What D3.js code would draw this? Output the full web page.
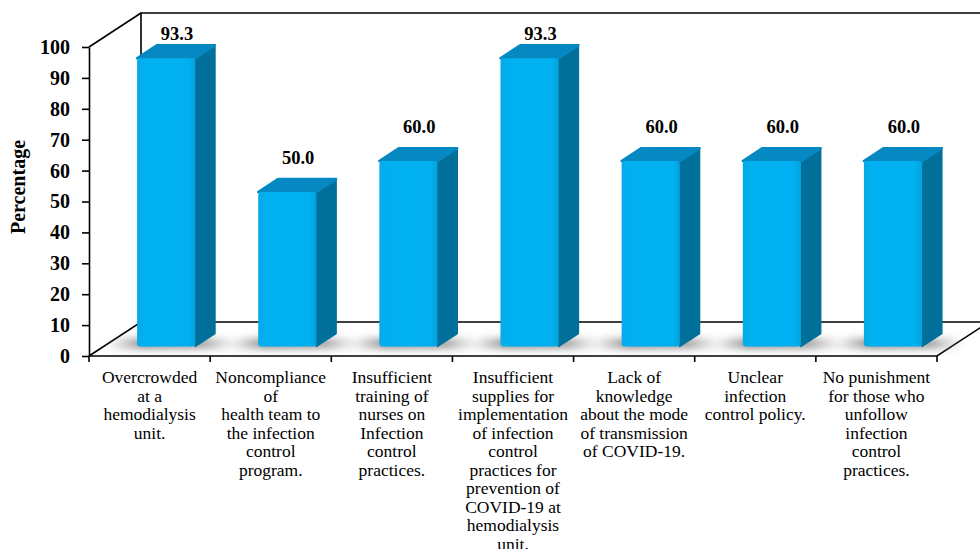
<!DOCTYPE html>
<html>
<head>
<meta charset="utf-8">
<script src="https://cdn.jsdelivr.net/npm/d3@7"></script>
<style>
  html, body { margin: 0; padding: 0; background: #fff; }
  svg { display: block; }
</style>
</head>
<body>
<div id="chart"></div>
<script>
(function () {
  'use strict';

  // ── Data ──────────────────────────────────────────────────────
  const categories = [
    ['Overcrowded', 'at a', 'hemodialysis', 'unit.'],
    ['Noncompliance', 'of', 'health team to', 'the infection', 'control', 'program.'],
    ['Insufficient', 'training of', 'nurses on', 'Infection', 'control', 'practices.'],
    ['Insufficient', 'supplies for', 'implementation', 'of infection', 'control',
     'practices for', 'prevention of', 'COVID-19 at', 'hemodialysis', 'unit.'],
    ['Lack of', 'knowledge', 'about the mode', 'of transmission', 'of COVID-19.'],
    ['Unclear', 'infection', 'control policy.'],
    ['No punishment', 'for those who', 'unfollow', 'infection', 'control', 'practices.'],
  ];
  const values = [93.3, 50.0, 60.0, 93.3, 60.0, 60.0, 60.0];
  const yTicks = [0, 10, 20, 30, 40, 50, 60, 70, 80, 90, 100];
  const yTitle = 'Percentage';

  // ── Layout ────────────────────────────────────────────────────
  const W = 980, H = 549;
  const X0 = 89, X1 = 937;        // front floor edge
  const Y0 = 356, Y100 = 47;      // front axis
  const DX = 52, DY = -34;        // full depth offset
  const F_FRONT = 0.28, F_BACK = 0.66;
  const SERIF = "'Liberation Serif'";

  const FRONT = '#00B0F0', TOP = '#0689C2', SIDE = '#00709B';

  const ids = categories.map((_, i) => 'c' + i);
  const x = d3.scaleBand().domain(ids).range([X0, X1]).padding(0);
  const y = d3.scaleLinear().domain([0, 100]).range([Y0, Y100]);

  const svg = d3.select('#chart').append('svg')
    .attr('width', W).attr('height', H)
    .attr('viewBox', `0 0 ${W} ${H}`);

  const defs = svg.append('defs');
  const blur = defs.append('filter').attr('id', 'shadow-blur')
    .attr('filterUnits', 'userSpaceOnUse')
    .attr('x', 0).attr('y', 250).attr('width', W).attr('height', 150);
  blur.append('feGaussianBlur').attr('stdDeviation', 4);

  const sg = defs.append('linearGradient').attr('id', 'shadow-grad')
    .attr('x1', 0).attr('x2', 1).attr('y1', 0).attr('y2', 0);
  sg.append('stop').attr('offset', '0%').attr('stop-color', '#bbb').attr('stop-opacity', 0.1);
  sg.append('stop').attr('offset', '30%').attr('stop-color', '#555').attr('stop-opacity', 0.9);
  sg.append('stop').attr('offset', '75%').attr('stop-color', '#666').attr('stop-opacity', 0.8);
  sg.append('stop').attr('offset', '100%').attr('stop-color', '#bbb').attr('stop-opacity', 0.1);

  const fg = defs.append('linearGradient').attr('id', 'front-grad')
    .attr('x1', 0).attr('x2', 1).attr('y1', 0).attr('y2', 0);
  fg.append('stop').attr('offset', '0%').attr('stop-color', '#0AA9E6');
  fg.append('stop').attr('offset', '12%').attr('stop-color', FRONT);
  fg.append('stop').attr('offset', '88%').attr('stop-color', FRONT);
  fg.append('stop').attr('offset', '100%').attr('stop-color', '#03A2DD');

  // ── Walls & floor ─────────────────────────────────────────────
  const frame = svg.append('g')
    .attr('fill', 'none').attr('stroke', '#000').attr('stroke-width', 1.6);

  // back wall top + left back edge
  frame.append('path').attr('d',
    `M${X0 + DX},${Y0 + DY} L${X0 + DX},${Y100 + DY} L${W + 5},${Y100 + DY}`);
  // left wall top
  frame.append('path').attr('d', `M${X0},${Y100} L${X0 + DX},${Y100 + DY}`);
  // floor
  frame.append('path').attr('d',
    `M${X0},${Y0} L${X0 + DX},${Y0 + DY} L${W + 5},${Y0 + DY}`);
  frame.append('path').attr('d',
    `M${X0},${Y0} L${X1},${Y0} L${X1 + DX},${Y0 + DY}`);

  // ── Shadows ───────────────────────────────────────────────────
  const bw = x.bandwidth() * 0.48;
  const fdx = DX * F_FRONT, fdy = DY * F_FRONT;
  const bdx = DX * F_BACK, bdy = DY * F_BACK;
  const ddx = bdx - fdx, ddy = bdy - fdy;
  const bars = ids.map((id, i) => {
    const left = x(id) + (x.bandwidth() - bw) / 2 + fdx + 2;
    return { i, v: values[i], left, right: left + bw };
  });

  svg.append('g').attr('filter', 'url(#shadow-blur)')
    .selectAll('path').data(bars).join('path')
    .attr('fill', 'url(#shadow-grad)')
    .attr('d', d => {
      const yb = y(0) + fdy + 1;
      const yk = y(0) + bdy + 6;
      return `M${d.left - 36},${yb} L${d.right + 32},${yb}` +
             ` L${d.right + ddx + 24},${yk} L${d.left - 16},${yk}Z`;
    });

  // ── Bars ──────────────────────────────────────────────────────
  const bar = svg.append('g').selectAll('g').data(bars).join('g');

  bar.append('path')
    .attr('fill', SIDE).attr('stroke', SIDE).attr('stroke-width', 1.5)
    .attr('stroke-linejoin', 'round')
    .attr('d', d => {
      const yt = y(d.v) + fdy, yb = y(0) + fdy;
      return `M${d.right},${yt} L${d.right + ddx},${yt + ddy}` +
             ` L${d.right + ddx},${yb + ddy} L${d.right},${yb}Z`;
    });

  bar.append('path')
    .attr('fill', TOP).attr('stroke', TOP).attr('stroke-width', 2.5)
    .attr('stroke-linejoin', 'round')
    .attr('d', d => {
      const yt = y(d.v) + fdy;
      return `M${d.left},${yt} L${d.left + ddx},${yt + ddy}` +
             ` L${d.right + ddx},${yt + ddy} L${d.right},${yt}Z`;
    });

  bar.append('rect')
    .attr('x', d => d.left)
    .attr('y', d => y(d.v) + fdy)
    .attr('width', bw)
    .attr('height', d => y(0) - y(d.v))
    .attr('rx', 3)
    .attr('fill', 'url(#front-grad)');

  // value labels (pushed down to stay inside the plot area)
  bar.append('text')
    .attr('x', d => d.left + bw / 2 + ddx / 2 + 1)
    .attr('y', d => Math.max(Y100 + DY + 27, y(d.v) + bdy - 15))
    .attr('text-anchor', 'middle')
    .style('font-family', SERIF)
    .style('font-size', '18.5px')
    .style('font-weight', 'bold')
    .attr('fill', '#000')
    .text(d => d.v.toFixed(1));

  // ── Axes ──────────────────────────────────────────────────────
  const yAxis = svg.append('g')
    .attr('transform', `translate(${X0},0)`)
    .call(d3.axisLeft(y).tickValues(yTicks).tickSize(7).tickPadding(12).tickSizeOuter(0));
  yAxis.select('.domain').attr('stroke', '#000').attr('stroke-width', 1.6);
  yAxis.selectAll('.tick line').attr('stroke', '#000').attr('stroke-width', 1.6);
  yAxis.selectAll('.tick text')
    .style('font-family', SERIF)
    .style('font-size', '20px')
    .style('font-weight', 'bold').attr('fill', '#000');

  const xTickPos = ids.map(id => x(id)).concat([X1]);
  svg.append('g').selectAll('line').data(xTickPos).join('line')
    .attr('x1', d => d).attr('x2', d => d)
    .attr('y1', Y0).attr('y2', Y0 + 6)
    .attr('stroke', '#000').attr('stroke-width', 1.6);

  svg.append('text')
    .attr('transform', 'translate(25,187) rotate(-90)')
    .attr('text-anchor', 'middle')
    .style('font-family', SERIF)
    .style('font-size', '20px').style('font-weight', 'bold')
    .text(yTitle);

  // category labels
  categories.forEach((lines, i) => {
    const cx = x(ids[i]) + x.bandwidth() / 2;
    const t = svg.append('text')
      .attr('x', cx).attr('y', 383)
      .attr('text-anchor', 'middle')
      .attr('fill', '#000')
      .style('font-family', SERIF)
      .style('font-size', '17.5px');
    lines.forEach((ln, j) => {
      t.append('tspan')
        .attr('x', cx)
        .attr('dy', j === 0 ? 0 : 18.5)
        .text(ln);
    });
  });
})();
</script>
</body>
</html>
